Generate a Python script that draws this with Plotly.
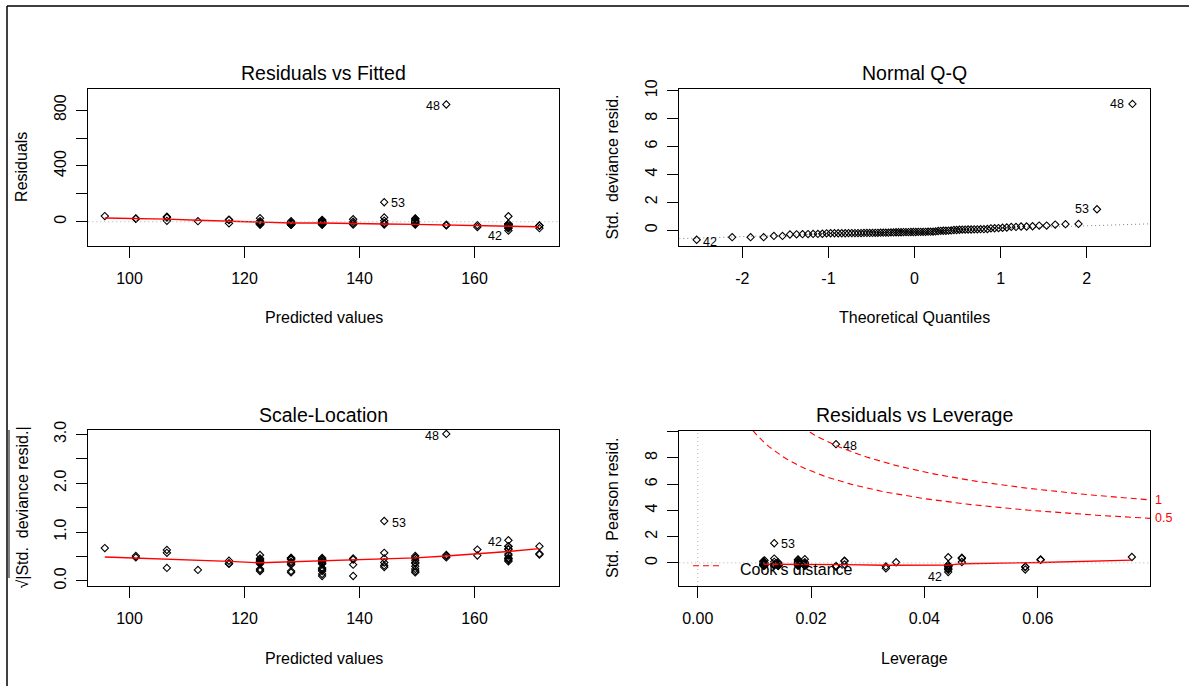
import numpy as np
import plotly.graph_objects as go
from statistics import NormalDist

# ---------------------------------------------------------------------------
# Diagnostics of a Gaussian GLM with one numeric predictor (88 cases).
# Cases are grouped by the 15 distinct predicted values.
# ---------------------------------------------------------------------------
fitted_levels = [95.7, 101.1, 106.5, 111.9, 117.3, 122.7, 128.1, 133.5,
                 138.9, 144.3, 149.7, 155.1, 160.5, 165.9, 171.3]
leverage_levels = [0.0766, 0.0605, 0.0466, 0.0350, 0.0259, 0.0189, 0.0142,
                   0.0116, 0.0118, 0.0135, 0.0177, 0.0244, 0.0332, 0.0442,
                   0.0578]
std_resid_by_level = [
    [0.45],
    [0.26, 0.23],
    [0.40, 0.33, 0.07],
    [0.05],
    [0.17, 0.13, -0.12],
    [0.28, 0.05, -0.04, -0.06, -0.12, -0.13, -0.14, -0.15, -0.16, -0.18, -0.20, -0.21],
    [0.04, -0.03, -0.11, -0.12, -0.14, -0.15, -0.19, -0.20, -0.21, -0.22, -0.22],
    [0.15, 0.07, 0.06, 0.04, 0.01, -0.02, -0.05, -0.12, -0.13, -0.15, -0.18, -0.19, -0.20, -0.22],
    [0.19, 0.01, -0.11, -0.21],
    [1.50, 0.33, 0.08, -0.10, -0.14, -0.21],
    [0.26, 0.23, 0.14, 0.06, 0.03, -0.04, -0.09, -0.13, -0.18, -0.22],
    [9.05, -0.23, -0.26, -0.28],
    [-0.41, -0.27],
    [0.43, -0.69, -0.50, -0.50, -0.41, -0.30, -0.27, -0.22, -0.21, -0.20, -0.18, -0.16],
    [-0.50, -0.31, -0.29],
]
case_numbers = ["48", "53", "42"]      # cases with the three largest |std. resid|
sigma = 94.0                            # residual standard error
n_params = 2
cook_levels = [0.5, 1.0]

# lowess smoothers shown in red
smooth_fitted = fitted_levels
smooth_resid = [27, 24, 19, 11, 4, -6, -9, -9, -10, -16, -19, -24, -27, -35, -36]
smooth_sqrt = [0.49, 0.47, 0.45, 0.42, 0.40, 0.37, 0.39, 0.40, 0.42, 0.44,
               0.47, 0.51, 0.55, 0.60, 0.66]
smooth_lev = [0.0116, 0.0135, 0.0142, 0.0177, 0.0189, 0.0244, 0.0259, 0.0332,
              0.0350, 0.0442, 0.0466, 0.0578, 0.0605, 0.0766]
smooth_lev_resid = [-0.10, -0.10, -0.10, -0.11, -0.11, -0.12, -0.13, -0.18,
                    -0.18, -0.17, -0.07, 0.0, 0.03, 0.21]

# axis ticks
fit_ticks = [100, 120, 140, 160]
resid_ticks = [0, 200, 400, 600, 800]
resid_ticktext = ["0", "", "400", "", "800"]
qq_xticks = [-2, -1, 0, 1, 2]
qq_yticks = [0, 2, 4, 6, 8, 10]
sl_ticks = [0.0, 0.5, 1.0, 1.5, 2.0, 2.5, 3.0]
sl_ticktext = ["0.0", "", "1.0", "", "2.0", "", "3.0"]
lev_xticks = [0.00, 0.02, 0.04, 0.06]
lev_xticktext = ["0.00", "0.02", "0.04", "0.06"]
lev_yticks = [0, 2, 4, 6, 8, 10]
lev_yticktext = ["0", "2", "4", "6", "8", ""]

# ---------------------------------------------------------------------------
fitted, lev, std = [], [], []
for f, h, rs in zip(fitted_levels, leverage_levels, std_resid_by_level):
    for r in rs:
        fitted.append(f)
        lev.append(h)
        std.append(r)
fitted = np.array(fitted)
lev = np.array(lev)
std = np.array(std)
n = len(std)

resid = std * sigma * np.sqrt(1 - lev)          # deviance residuals
sqrt_abs = np.sqrt(np.abs(std))                  # scale-location
pearson = std                                    # identical for the Gaussian family

order = np.argsort(std, kind="stable")
nd = NormalDist()
theo = np.empty(n)
theo[order] = [nd.inv_cdf((i + 0.5) / n) for i in range(n)]

q1, q3 = np.quantile(std, [0.25, 0.75])
x1, x3 = nd.inv_cdf(0.25), nd.inv_cdf(0.75)
qq_slope = (q3 - q1) / (x3 - x1)
qq_int = q1 - qq_slope * x1

top_ids = np.argsort(-np.abs(std))[:3]

W, H = 1189, 686
FONT = "Liberation Sans, Arial, sans-serif"


def px(x):
    return x / W


def py(y):
    return 1 - y / H


ranges = {
    "x": [92.83, 174.7], "y": [-170, 949],
    "x2": [-2.733, 2.735], "y2": [-1.10, 10.10],
    "x3": [92.83, 174.7], "y3": [-0.105, 3.088],
    "x4": [-0.00325, 0.0798], "y4": [-1.76, 10.09],
}

fig = go.Figure()
marker = dict(symbol="diamond-open", size=5.6, color="black", line=dict(width=1.1, color="black"))


def add_points(x, y, k):
    ax = "" if k == 1 else str(k)
    fig.add_trace(go.Scatter(x=x, y=y, mode="markers", marker=marker,
                             xaxis="x" + ax, yaxis="y" + ax, hoverinfo="skip"))


def add_line(x, y, k, color="red", width=1.4, dash="solid"):
    ax = "" if k == 1 else str(k)
    fig.add_trace(go.Scatter(x=x, y=y, mode="lines",
                             line=dict(color=color, width=width, dash=dash),
                             xaxis="x" + ax, yaxis="y" + ax, hoverinfo="skip"))


# Residuals vs Fitted
add_points(fitted, resid, 1)
add_line(smooth_fitted, smooth_resid, 1)
# Normal Q-Q
qx = np.array(ranges["x2"])
add_line(qx, qq_int + qq_slope * qx, 2, color="#7f7f7f", width=1, dash="1px,3px")
add_points(theo, std, 2)
# Scale-Location
add_points(fitted, sqrt_abs, 3)
add_line(smooth_fitted, smooth_sqrt, 3)
# Residuals vs Leverage
add_points(lev, pearson, 4)
add_line(smooth_lev, smooth_lev_resid, 4)
hh = np.linspace(min(lev.min(), lev.max() / 100), ranges["x4"][1], 101)
for c in cook_levels:
    cl = np.sqrt(c * n_params * (1 - hh) / hh)
    add_line(hh, cl, 4, width=1.1, dash="6px,4px")
    add_line(hh, -cl, 4, width=1.1, dash="6px,4px")

# ---------------------------------------------------------------------------
domains = {
    1: ([88.3, 559.0], [89.3, 245.5]),
    2: ([679.3, 1150.0], [89.3, 245.5]),
    3: ([88.3, 559.0], [430.0, 586.0]),
    4: ([679.3, 1150.0], [430.5, 586.0]),
}
tick_font = dict(size=16, family=FONT, color="black")


def axis(rng, dom, tickvals, ticktext, vertical, anchor):
    d = dict(range=rng, domain=dom, showline=True, mirror=True, linecolor="black",
             linewidth=1, ticks="outside", ticklen=11, tickwidth=1, tickcolor="black",
             showgrid=False, zeroline=False, tickfont=tick_font, fixedrange=True,
             automargin=False,
             tickmode="array", tickvals=tickvals, ticktext=ticktext, anchor=anchor)
    if vertical:
        d["tickangle"] = -90
        d["ticklabelstandoff"] = 4
    else:
        d["ticklabelstandoff"] = 7
    return d


axis_ticks = {
    1: (fit_ticks, [str(t) for t in fit_ticks], resid_ticks, resid_ticktext),
    2: (qq_xticks, [str(t) for t in qq_xticks], qq_yticks, [str(t) for t in qq_yticks]),
    3: (fit_ticks, [str(t) for t in fit_ticks], sl_ticks, sl_ticktext),
    4: (lev_xticks, lev_xticktext, lev_yticks, lev_yticktext),
}
layout_axes = {}
for k in range(1, 5):
    ax = "" if k == 1 else str(k)
    (xd, yd) = domains[k]
    xv, xt, yv, yt = axis_ticks[k]
    layout_axes["xaxis" + ax] = axis(ranges["x" + ax], [px(xd[0]), px(xd[1])], xv, xt, False, "y" + ax)
    layout_axes["yaxis" + ax] = axis(ranges["y" + ax], [py(yd[1]), py(yd[0])], yv, yt, True, "x" + ax)

annotations = []


def text(x, y, s, size, angle=0, color="black", xanchor="center"):
    annotations.append(dict(x=px(x), y=py(y), xref="paper", yref="paper", text=s,
                            showarrow=False, textangle=angle, xanchor=xanchor, yanchor="middle",
                            font=dict(size=size, family=FONT, color=color)))


# titles
text(323.6, 73.5, "Residuals vs Fitted", 19.5)
text(914.6, 73.5, "Normal Q-Q", 19.5)
text(323.6, 415, "Scale-Location", 19.5)
text(914.6, 415, "Residuals vs Leverage", 19.5)
# axis titles
text(323.6, 317, "Predicted values", 16)
text(914.6, 317, "Theoretical Quantiles", 16)
text(323.6, 658, "Predicted values", 16)
text(914.6, 658, "Leverage", 16)
text(21.5, 167.4, "Residuals", 16, angle=-90)
text(612, 167.4, "Std.  deviance resid.", 16, angle=-90)
text(21.5, 508, "√|Std.  deviance resid.|", 16, angle=-90)
text(612, 508, "Std.  Pearson resid.", 16, angle=-90)

# case labels: (xanchor, xshift, yshift) per panel, in the order of case_numbers
label_style = {
    1: [("right", -4, -2), ("left", 5, -1), ("right", -4, -5)],
    2: [("right", -6, 0), ("right", -6, 0), ("left", 4, -2)],
    3: [("right", -5, -2), ("left", 6, -2), ("right", -4, -2)],
    4: [("left", 5, -2), ("left", 5, -1), ("right", -4, -5)],
}
panel_xy = {1: (fitted, resid), 2: (theo, std), 3: (fitted, sqrt_abs), 4: (lev, pearson)}
for k in range(1, 5):
    ax = "" if k == 1 else str(k)
    xs, ys = panel_xy[k]
    for j, idx in enumerate(top_ids):
        xa, xs_, ys_ = label_style[k][j]
        annotations.append(dict(x=xs[idx], y=ys[idx], xref="x" + ax, yref="y" + ax,
                                text=case_numbers[j], showarrow=False, xanchor=xa,
                                yanchor="middle", xshift=xs_, yshift=ys_,
                                font=dict(size=12.5, family=FONT, color="black")))

# Cook's distance contour labels
hmax = ranges["x4"][1]
for c in cook_levels:
    annotations.append(dict(x=hmax, y=float(np.sqrt(c * n_params * (1 - hmax) / hmax)),
                            xref="x4", yref="y4", text=f"{c:g}", showarrow=False,
                            xanchor="left", yanchor="middle", xshift=3,
                            font=dict(size=12.5, family=FONT, color="red")))
text(738, 569, "Cook's distance", 16, xanchor="left")

shapes = [
    # outer frame
    dict(type="line", xref="paper", yref="paper", x0=px(7), x1=1, y0=py(6), y1=py(6),
         line=dict(color="black", width=1.5)),
    dict(type="line", xref="paper", yref="paper", x0=px(7), x1=px(7), y0=py(6), y1=0,
         line=dict(color="black", width=1.5)),
    # radical bar of the scale-location axis title
    dict(type="line", xref="paper", yref="paper", x0=px(9), x1=px(9), y0=py(430), y1=py(578),
         line=dict(color="black", width=1)),
    # zero reference lines
    dict(type="line", xref="x domain", yref="y", x0=0, x1=1, y0=0, y1=0,
         line=dict(color="#b0b0b0", width=1, dash="1px,3px")),
    dict(type="line", xref="x4 domain", yref="y4", x0=0, x1=1, y0=0, y1=0,
         line=dict(color="#b0b0b0", width=1, dash="1px,3px")),
    dict(type="line", xref="x4", yref="y4 domain", x0=0, x1=0, y0=0, y1=1,
         line=dict(color="#b0b0b0", width=1, dash="1px,3px")),
    # Cook's distance legend key
    dict(type="line", xref="paper", yref="paper", x0=px(693), x1=px(721), y0=py(565.7), y1=py(565.7),
         line=dict(color="red", width=1.1, dash="6px,4px")),
]

fig.update_layout(
    width=W, height=H, margin=dict(l=0, r=0, t=0, b=0, pad=0, autoexpand=False),
    paper_bgcolor="white", plot_bgcolor="white", showlegend=False,
    annotations=annotations, shapes=shapes, **layout_axes,
)

fig.write_html("out.html", config={"displayModeBar": False})
